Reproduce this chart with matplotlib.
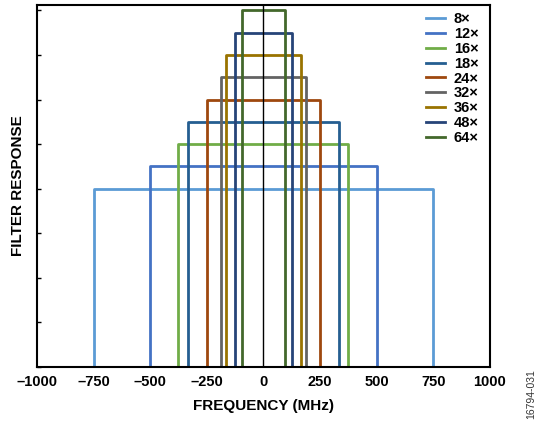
import matplotlib
matplotlib.use("Agg")
import matplotlib.pyplot as plt

labels = ["8×", "12×", "16×", "18×", "24×", "32×", "36×", "48×", "64×"]
half_bw = [750, 500, 375, 333.3, 250, 187.5, 166.7, 125, 93.75]
heights = [4.0, 4.5, 5.0, 5.5, 6.0, 6.5, 7.0, 7.5, 8.0]
colors = ["#5B9BD5", "#4472C4", "#70AD47", "#255E91", "#9E480E",
          "#636363", "#997300", "#264478", "#43682B"]
xticks = [-1000, -750, -500, -250, 0, 250, 500, 750, 1000]

plt.rcParams['font.family'] = ['Liberation Sans', 'DejaVu Sans']
fig = plt.figure(figsize=(5.39, 4.23), dpi=100)
ax = fig.add_axes([0.0686, 0.1324, 0.84, 0.8556])

for lab, w, h, c in zip(labels, half_bw, heights, colors):
    ax.plot([-w, -w, w, w], [0, h, h, 0], color=c, lw=2.0, label=lab)

ax.axvline(0, color="black", lw=1.0)

ax.set_xlim(-1000, 1000)
ax.set_ylim(0, 8.12)
ax.set_xticks(xticks)
ax.set_xticklabels(["\u2013" + str(-t) if t < 0 else str(t) for t in xticks],
                   fontweight="bold", fontsize=10.5)
ax.set_yticks(range(0, 9))
ax.set_yticklabels([])
ax.tick_params(axis="both", direction="in", length=3, width=1)
ax.tick_params(axis="x", length=0, pad=6)
for s in ax.spines.values():
    s.set_linewidth(1.5)

ax.set_xlabel("FREQUENCY (MHz)", fontweight="bold", fontsize=11, labelpad=7)
ax.set_ylabel("FILTER RESPONSE", fontweight="bold", fontsize=11, labelpad=5)

leg = ax.legend(loc="upper right", frameon=False, prop={"weight": "bold", "size": 10.5},
                handlelength=1.3, labelspacing=0.06, borderaxespad=0.2,
                bbox_to_anchor=(0.995, 1.005), handletextpad=0.6)

fig.text(0.985, 0.01, "16794-031", rotation=90, fontsize=7.5, color="#333333",
         ha="center", va="bottom")

fig.savefig("out.png", dpi=100)
